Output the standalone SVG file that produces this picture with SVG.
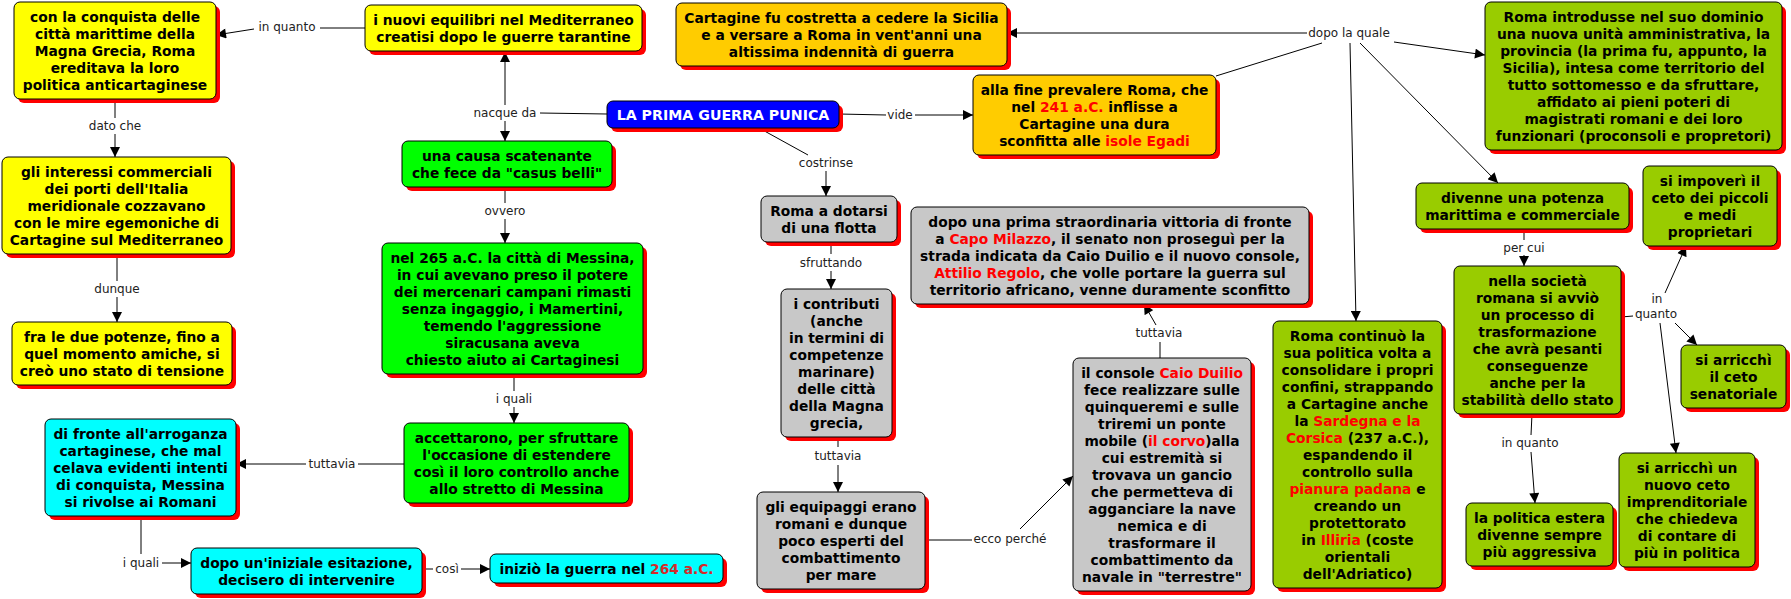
<svg xmlns="http://www.w3.org/2000/svg" width="1791" height="599" viewBox="0 0 1791 599">
<defs>
<marker id="ah" viewBox="0 0 10 10" refX="10" refY="5" markerWidth="11" markerHeight="10" markerUnits="userSpaceOnUse" orient="auto">
<path d="M0,0 L10,5 L0,10 z" fill="#000"/>
</marker>
<style>
.sh{fill:#ff0000}
.bx{stroke:#000;stroke-width:1}
.y{fill:#ffff00}.g{fill:#00ff00}.c{fill:#00ffff}.b{fill:#0000ff}.o{fill:#ffcc00}.gr{fill:#c8c8c8}.ol{fill:#99cc00}
.t{font-family:"DejaVu Sans",Verdana,sans-serif;font-weight:bold;font-size:13.8px;text-anchor:middle;fill:#000}
.w{fill:#fff;font-size:14.2px}
.r{fill:#ff0000}
.lb{font-family:"DejaVu Sans",Verdana,sans-serif;font-size:12px;text-anchor:middle;fill:#222}
.ln{stroke:#000;stroke-width:1;fill:none}
.ar{marker-end:url(#ah)}
</style>
</defs>
<rect width="1791" height="599" fill="#fff"/>

<g id="connectors">
<path class="ln" d="M365,28 L320,28"/><path class="ln ar" d="M254,29 L216,35"/>
<path class="ln" d="M115,99 L115,118"/><path class="ln ar" d="M115,134 L115,157"/>
<path class="ln" d="M117,254 L117,281"/><path class="ln ar" d="M117,297 L117,322"/>
<path class="ln" d="M607,114 L540,113"/><path class="ln ar" d="M505,105 L505,52"/><path class="ln ar" d="M505,121 L505,141"/>
<path class="ln" d="M505,187 L505,203"/><path class="ln ar" d="M505,219 L505,243"/>
<path class="ln" d="M514,374 L514,391"/><path class="ln ar" d="M514,407 L514,423"/>
<path class="ln" d="M404,464 L358,464"/><path class="ln ar" d="M306,464 L236,464"/>
<path class="ln" d="M141,516 L141,554"/><path class="ln ar" d="M162,563 L191,563"/>
<path class="ln" d="M422,569 L433,569"/><path class="ln ar" d="M461,569 L490,569"/>
<path class="ln" d="M839,114 L886,115"/><path class="ln ar" d="M915,115 L973,115"/>
<path class="ln" d="M759,128 L808,155"/><path class="ln ar" d="M826,171 L826,196"/>
<path class="ln" d="M831,242 L831,254"/><path class="ln ar" d="M831,271 L831,289"/>
<path class="ln" d="M838,437 L838,447"/><path class="ln ar" d="M838,465 L838,492"/>
<path class="ln" d="M925,540 L972,540"/><path class="ln ar" d="M1020,529 L1073,476"/>
<path class="ln" d="M1160,358 L1160,342"/><path class="ln ar" d="M1156,325 L1144,304"/>
<path class="ln" d="M1216,76 L1322,43"/>
<path class="ln ar" d="M1307,33 L1007,33"/>
<path class="ln ar" d="M1394,42 L1485,55"/>
<path class="ln ar" d="M1360,43 L1498,183"/>
<path class="ln ar" d="M1350,43 L1356,321"/>
<path class="ln" d="M1524,229 L1524,240"/><path class="ln ar" d="M1524,255 L1524,266"/>
<path class="ln" d="M1621,317 L1633,316"/>
<path class="ln ar" d="M1665,293 L1686,246"/>
<path class="ln ar" d="M1675,323 L1697,345"/>
<path class="ln ar" d="M1660,323 L1676,453"/>
<path class="ln" d="M1532,414 L1531,435"/><path class="ln ar" d="M1531,452 L1535,503"/>
<text class="lb" x="287" y="31">in quanto</text>
<text class="lb" x="115" y="130">dato che</text>
<text class="lb" x="117" y="293">dunque</text>
<text class="lb" x="505" y="117">nacque da</text>
<text class="lb" x="505" y="215">ovvero</text>
<text class="lb" x="514" y="403">i quali</text>
<text class="lb" x="332" y="468">tuttavia</text>
<text class="lb" x="141" y="567">i quali</text>
<text class="lb" x="447" y="573">così</text>
<text class="lb" x="900" y="119">vide</text>
<text class="lb" x="826" y="167">costrinse</text>
<text class="lb" x="831" y="267">sfruttando</text>
<text class="lb" x="838" y="460">tuttavia</text>
<text class="lb" x="1010" y="543">ecco perché</text>
<text class="lb" x="1159" y="337">tuttavia</text>
<text class="lb" x="1349" y="37">dopo la quale</text>
<text class="lb" x="1524" y="252">per cui</text>
<text class="lb" x="1657" y="303">in</text>
<text class="lb" x="1656" y="318">quanto</text>
<text class="lb" x="1530" y="447">in quanto</text>
</g>

<g id="nA"><rect class="sh" x="18" y="6" width="202" height="97" rx="6"/><rect class="bx y" x="14" y="2" width="202" height="97" rx="6"/>
<text class="t"><tspan x="115" y="21.5">con la conquista delle</tspan><tspan x="115" y="38.5">città marittime della</tspan><tspan x="115" y="55.5">Magna Grecia, Roma</tspan><tspan x="115" y="72.5">ereditava la loro</tspan><tspan x="115" y="89.5">politica anticartaginese</tspan></text></g>

<g id="nB"><rect class="sh" x="369" y="9" width="277" height="46" rx="6"/><rect class="bx y" x="365" y="5" width="277" height="46" rx="6"/>
<text class="t"><tspan x="503.5" y="24.5">i nuovi equilibri nel Mediterraneo</tspan><tspan x="503.5" y="41.5">creatisi dopo le guerre tarantine</tspan></text></g>

<g id="nGli"><rect class="sh" x="6" y="161" width="229" height="97" rx="6"/><rect class="bx y" x="2" y="157" width="229" height="97" rx="6"/>
<text class="t"><tspan x="116.5" y="176.5">gli interessi commerciali</tspan><tspan x="116.5" y="193.5">dei porti dell'Italia</tspan><tspan x="116.5" y="210.5">meridionale cozzavano</tspan><tspan x="116.5" y="227.5">con le mire egemoniche di</tspan><tspan x="116.5" y="244.5">Cartagine sul Mediterraneo</tspan></text></g>

<g id="nFra"><rect class="sh" x="16" y="326" width="220" height="63" rx="6"/><rect class="bx y" x="12" y="322" width="220" height="63" rx="6"/>
<text class="t"><tspan x="122" y="341.5">fra le due potenze, fino a</tspan><tspan x="122" y="358.5">quel momento amiche, si</tspan><tspan x="122" y="375.5">creò uno stato di tensione</tspan></text></g>

<g id="nCausa"><rect class="sh" x="406" y="145" width="210" height="46" rx="6"/><rect class="bx g" x="402" y="141" width="210" height="46" rx="6"/>
<text class="t"><tspan x="507" y="160.5">una causa scatenante</tspan><tspan x="507" y="177.5">che fece da "casus belli"</tspan></text></g>

<g id="nMessina"><rect class="sh" x="386" y="247" width="261" height="131" rx="6"/><rect class="bx g" x="382" y="243" width="261" height="131" rx="6"/>
<text class="t"><tspan x="512.5" y="262.5">nel 265 a.C. la città di Messina,</tspan><tspan x="512.5" y="279.5">in cui avevano preso il potere</tspan><tspan x="512.5" y="296.5">dei mercenari campani rimasti</tspan><tspan x="512.5" y="313.5">senza ingaggio, i Mamertini,</tspan><tspan x="512.5" y="330.5">temendo l'aggressione</tspan><tspan x="512.5" y="347.5">siracusana aveva</tspan><tspan x="512.5" y="364.5">chiesto aiuto ai Cartaginesi</tspan></text></g>

<g id="nAcc"><rect class="sh" x="408" y="427" width="225" height="80" rx="6"/><rect class="bx g" x="404" y="423" width="225" height="80" rx="6"/>
<text class="t"><tspan x="516.5" y="442.5">accettarono, per sfruttare</tspan><tspan x="516.5" y="459.5">l'occasione di estendere</tspan><tspan x="516.5" y="476.5">così il loro controllo anche</tspan><tspan x="516.5" y="493.5">allo stretto di Messina</tspan></text></g>

<g id="nDiFronte"><rect class="sh" x="49" y="423" width="191" height="97" rx="6"/><rect class="bx c" x="45" y="419" width="191" height="97" rx="6"/>
<text class="t"><tspan x="140.5" y="438.5">di fronte all'arroganza</tspan><tspan x="140.5" y="455.5">cartaginese, che mal</tspan><tspan x="140.5" y="472.5">celava evidenti intenti</tspan><tspan x="140.5" y="489.5">di conquista, Messina</tspan><tspan x="140.5" y="506.5">si rivolse ai Romani</tspan></text></g>

<g id="nDopo"><rect class="sh" x="195" y="552" width="231" height="46" rx="6"/><rect class="bx c" x="191" y="548" width="231" height="46" rx="6"/>
<text class="t"><tspan x="306.5" y="567.5">dopo un'iniziale esitazione,</tspan><tspan x="306.5" y="584.5">decisero di intervenire</tspan></text></g>

<g id="nIniz"><rect class="sh" x="494" y="558" width="233" height="29" rx="6"/><rect class="bx c" x="490" y="554" width="233" height="29" rx="6"/>
<text class="t"><tspan x="606.5" y="573.5">iniziò la guerra nel <tspan fill="#d42a2a">264 a.C.</tspan></tspan></text></g>

<g id="nMain"><rect class="sh" x="611" y="105" width="232" height="27" rx="6"/><rect class="bx b" x="607" y="101" width="232" height="27" rx="6"/>
<text class="t w" x="723" y="119.5">LA PRIMA GUERRA PUNICA</text></g>

<g id="nCart"><rect class="sh" x="680" y="7" width="331" height="63" rx="6"/><rect class="bx o" x="676" y="3" width="331" height="63" rx="6"/>
<text class="t"><tspan x="841.5" y="22.5">Cartagine fu costretta a cedere la Sicilia</tspan><tspan x="841.5" y="39.5">e a versare a Roma in vent'anni una</tspan><tspan x="841.5" y="56.5">altissima indennità di guerra</tspan></text></g>

<g id="nAlla"><rect class="sh" x="977" y="79" width="243" height="80" rx="6"/><rect class="bx o" x="973" y="75" width="243" height="80" rx="6"/>
<text class="t"><tspan x="1094.5" y="94.5">alla fine prevalere Roma, che</tspan><tspan x="1094.5" y="111.5">nel <tspan class="r">241 a.C.</tspan> inflisse a</tspan><tspan x="1094.5" y="128.5">Cartagine una dura</tspan><tspan x="1094.5" y="145.5">sconfitta alle <tspan class="r">isole Egadi</tspan></tspan></text></g>

<g id="nFlotta"><rect class="sh" x="765" y="200" width="136" height="46" rx="6"/><rect class="bx gr" x="761" y="196" width="136" height="46" rx="6"/>
<text class="t"><tspan x="829" y="215.5">Roma a dotarsi</tspan><tspan x="829" y="232.5">di una flotta</tspan></text></g>

<g id="nContr"><rect class="sh" x="785" y="293" width="111" height="148" rx="6"/><rect class="bx gr" x="781" y="289" width="111" height="148" rx="6"/>
<text class="t"><tspan x="836.5" y="308.5">i contributi</tspan><tspan x="836.5" y="325.5">(anche</tspan><tspan x="836.5" y="342.5">in termini di</tspan><tspan x="836.5" y="359.5">competenze</tspan><tspan x="836.5" y="376.5">marinare)</tspan><tspan x="836.5" y="393.5">delle città</tspan><tspan x="836.5" y="410.5">della Magna</tspan><tspan x="836.5" y="427.5">grecia,</tspan></text></g>

<g id="nEquip"><rect class="sh" x="761" y="496" width="168" height="97" rx="6"/><rect class="bx gr" x="757" y="492" width="168" height="97" rx="6"/>
<text class="t"><tspan x="841" y="511.5">gli equipaggi erano</tspan><tspan x="841" y="528.5">romani e dunque</tspan><tspan x="841" y="545.5">poco esperti del</tspan><tspan x="841" y="562.5">combattimento</tspan><tspan x="841" y="579.5">per mare</tspan></text></g>

<g id="nDopoPrima"><rect class="sh" x="915" y="211" width="398" height="97" rx="6"/><rect class="bx gr" x="911" y="207" width="398" height="97" rx="6"/>
<text class="t"><tspan x="1110" y="226.5">dopo una prima straordinaria vittoria di fronte</tspan><tspan x="1110" y="243.5">a <tspan class="r">Capo Milazzo</tspan>, il senato non proseguì per la</tspan><tspan x="1110" y="260.5">strada indicata da Caio Duilio e il nuovo console,</tspan><tspan x="1110" y="277.5"><tspan class="r">Attilio Regolo</tspan>, che volle portare la guerra sul</tspan><tspan x="1110" y="294.5">territorio africano, venne duramente sconfitto</tspan></text></g>

<g id="nConsole"><rect class="sh" x="1077" y="362" width="178" height="233" rx="6"/><rect class="bx gr" x="1073" y="358" width="178" height="233" rx="6"/>
<text class="t"><tspan x="1162" y="377.5">il console <tspan class="r">Caio Duilio</tspan></tspan><tspan x="1162" y="394.5">fece realizzare sulle</tspan><tspan x="1162" y="411.5">quinqueremi e sulle</tspan><tspan x="1162" y="428.5">triremi un ponte</tspan><tspan x="1162" y="445.5">mobile (<tspan class="r">il corvo</tspan>)alla</tspan><tspan x="1162" y="462.5">cui estremità si</tspan><tspan x="1162" y="479.5">trovava un gancio</tspan><tspan x="1162" y="496.5">che permetteva di</tspan><tspan x="1162" y="513.5">agganciare la nave</tspan><tspan x="1162" y="530.5">nemica e di</tspan><tspan x="1162" y="547.5">trasformare il</tspan><tspan x="1162" y="564.5">combattimento da</tspan><tspan x="1162" y="581.5">navale in "terrestre"</tspan></text></g>

<g id="nIntro"><rect class="sh" x="1489" y="6" width="297" height="148" rx="6"/><rect class="bx ol" x="1485" y="2" width="297" height="148" rx="6"/>
<text class="t"><tspan x="1633.5" y="21.5">Roma introdusse nel suo dominio</tspan><tspan x="1633.5" y="38.5">una nuova unità amministrativa, la</tspan><tspan x="1633.5" y="55.5">provincia (la prima fu, appunto, la</tspan><tspan x="1633.5" y="72.5">Sicilia), intesa come territorio del</tspan><tspan x="1633.5" y="89.5">tutto sottomesso e da sfruttare,</tspan><tspan x="1633.5" y="106.5">affidato ai pieni poteri di</tspan><tspan x="1633.5" y="123.5">magistrati romani e dei loro</tspan><tspan x="1633.5" y="140.5">funzionari (proconsoli e propretori)</tspan></text></g>

<g id="nDivenne"><rect class="sh" x="1420" y="187" width="213" height="46" rx="6"/><rect class="bx ol" x="1416" y="183" width="213" height="46" rx="6"/>
<text class="t"><tspan x="1522.5" y="202.5">divenne una potenza</tspan><tspan x="1522.5" y="219.5">marittima e commerciale</tspan></text></g>

<g id="nNella"><rect class="sh" x="1458" y="270" width="167" height="148" rx="6"/><rect class="bx ol" x="1454" y="266" width="167" height="148" rx="6"/>
<text class="t"><tspan x="1537.5" y="285.5">nella società</tspan><tspan x="1537.5" y="302.5">romana si avviò</tspan><tspan x="1537.5" y="319.5">un processo di</tspan><tspan x="1537.5" y="336.5">trasformazione</tspan><tspan x="1537.5" y="353.5">che avrà pesanti</tspan><tspan x="1537.5" y="370.5">conseguenze</tspan><tspan x="1537.5" y="387.5">anche per la</tspan><tspan x="1537.5" y="404.5">stabilità dello stato</tspan></text></g>

<g id="nImpov"><rect class="sh" x="1647" y="170" width="134" height="80" rx="6"/><rect class="bx ol" x="1643" y="166" width="134" height="80" rx="6"/>
<text class="t"><tspan x="1710" y="185.5">si impoverì il</tspan><tspan x="1710" y="202.5">ceto dei piccoli</tspan><tspan x="1710" y="219.5">e medi</tspan><tspan x="1710" y="236.5">proprietari</tspan></text></g>

<g id="nCetoSen"><rect class="sh" x="1685" y="349" width="105" height="63" rx="6"/><rect class="bx ol" x="1681" y="345" width="105" height="63" rx="6"/>
<text class="t"><tspan x="1733.5" y="364.5">si arricchì</tspan><tspan x="1733.5" y="381.5">il ceto</tspan><tspan x="1733.5" y="398.5">senatoriale</tspan></text></g>

<g id="nPolitica"><rect class="sh" x="1470" y="507" width="147" height="63" rx="6"/><rect class="bx ol" x="1466" y="503" width="147" height="63" rx="6"/>
<text class="t"><tspan x="1539.5" y="522.5">la politica estera</tspan><tspan x="1539.5" y="539.5">divenne sempre</tspan><tspan x="1539.5" y="556.5">più aggressiva</tspan></text></g>

<g id="nNuovo"><rect class="sh" x="1623" y="457" width="136" height="114" rx="6"/><rect class="bx ol" x="1619" y="453" width="136" height="114" rx="6"/>
<text class="t"><tspan x="1687" y="472.5">si arricchì un</tspan><tspan x="1687" y="489.5">nuovo ceto</tspan><tspan x="1687" y="506.5">imprenditoriale</tspan><tspan x="1687" y="523.5">che chiedeva</tspan><tspan x="1687" y="540.5">di contare di</tspan><tspan x="1687" y="557.5">più in politica</tspan></text></g>

<g id="nContinuo"><rect class="sh" x="1277" y="325" width="169" height="267" rx="6"/><rect class="bx ol" x="1273" y="321" width="169" height="267" rx="6"/>
<text class="t"><tspan x="1357.5" y="340.5">Roma continuò la</tspan><tspan x="1357.5" y="357.5">sua politica volta a</tspan><tspan x="1357.5" y="374.5">consolidare i propri</tspan><tspan x="1357.5" y="391.5">confini, strappando</tspan><tspan x="1357.5" y="408.5">a Cartagine anche</tspan><tspan x="1357.5" y="425.5">la <tspan class="r">Sardegna e la</tspan></tspan><tspan x="1357.5" y="442.5"><tspan class="r">Corsica</tspan> (237 a.C.),</tspan><tspan x="1357.5" y="459.5">espandendo il</tspan><tspan x="1357.5" y="476.5">controllo sulla</tspan><tspan x="1357.5" y="493.5"><tspan class="r">pianura padana</tspan> e</tspan><tspan x="1357.5" y="510.5">creando un</tspan><tspan x="1357.5" y="527.5">protettorato</tspan><tspan x="1357.5" y="544.5">in <tspan class="r">Illiria</tspan> (coste</tspan><tspan x="1357.5" y="561.5">orientali</tspan><tspan x="1357.5" y="578.5">dell'Adriatico)</tspan></text></g>
</svg>
